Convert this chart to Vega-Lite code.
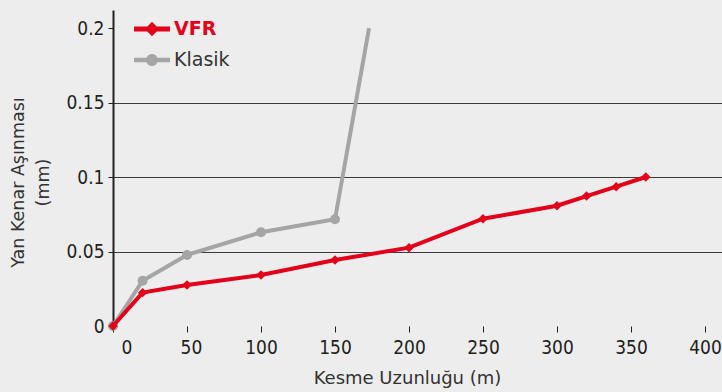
{
  "$schema": "https://vega.github.io/schema/vega-lite/v6.json",
  "width": 609,
  "height": 316,
  "autosize": "none",
  "padding": {"left": 113, "top": 10, "right": 0, "bottom": 66},
  "background": "#ededed",
  "config": {
    "view": {"stroke": null},
    "font": "DejaVu Sans Condensed, sans-serif"
  },
  "data": {
    "values": [
      {"series": "VFR", "length": 0, "wear": 0},
      {"series": "VFR", "length": 20, "wear": 0.0224},
      {"series": "VFR", "length": 50, "wear": 0.0275},
      {"series": "VFR", "length": 100, "wear": 0.0342},
      {"series": "VFR", "length": 150, "wear": 0.0443},
      {"series": "VFR", "length": 200, "wear": 0.0526},
      {"series": "VFR", "length": 250, "wear": 0.072},
      {"series": "VFR", "length": 300, "wear": 0.0807},
      {"series": "VFR", "length": 320, "wear": 0.0872},
      {"series": "VFR", "length": 340, "wear": 0.0935},
      {"series": "VFR", "length": 360, "wear": 0.1},
      {"series": "Klasik", "length": 0, "wear": 0},
      {"series": "Klasik", "length": 20, "wear": 0.0304},
      {"series": "Klasik", "length": 50, "wear": 0.0477},
      {"series": "Klasik", "length": 100, "wear": 0.0629},
      {"series": "Klasik", "length": 150, "wear": 0.0716},
      {"series": "Klasik", "length": 173, "wear": 0.2}
    ]
  },
  "encoding": {
    "x": {
      "field": "length",
      "type": "quantitative",
      "scale": {"domain": [0, 411.5], "nice": false, "zero": false},
      "axis": {
        "values": [0, 50, 100, 150, 200, 250, 300, 350, 400],
        "domain": false,
        "grid": false,
        "ticks": true,
        "tickSize": 6,
        "tickColor": "#231f20",
        "tickWidth": 1,
        "labelFontSize": 19,
        "labelColor": "#231f20",
        "labelPadding": 6,
        "labelOffset": {
          "condition": [
            {"test": "datum.value == 0", "value": 8},
            {"test": "datum.value == 50", "value": 4}
          ],
          "value": 0
        },
        "title": "Kesme Uzunluğu (m)",
        "titleFont": "DejaVu Sans",
        "titleFontSize": 18,
        "titleFontWeight": "normal",
        "titleColor": "#333333",
        "titleX": 294,
        "titleY": 57,
        "titleAlign": "center",
        "titleBaseline": "alphabetic"
      }
    },
    "y": {
      "field": "wear",
      "type": "quantitative",
      "scale": {"domain": [0, 0.2121], "nice": false},
      "axis": {
        "values": [0, 0.05, 0.1, 0.15, 0.2],
        "format": ".2~f",
        "domain": true,
        "domainColor": "#231f20",
        "domainWidth": 2,
        "ticks": true,
        "tickSize": 5,
        "tickColor": "#231f20",
        "tickWidth": 1,
        "grid": true,
        "gridColor": "#3a3a3a",
        "gridWidth": 1.2,
        "gridOpacity": {
          "condition": {"test": "datum.value == 0 || datum.value >= 0.2", "value": 0},
          "value": 1
        },
        "labelFontSize": 19,
        "labelColor": "#231f20",
        "labelPadding": 4,
        "title": ["Yan Kenar Aşınması", "(mm)"],
        "titleFont": "DejaVu Sans",
        "titleFontSize": 17.5,
        "titleFontWeight": "normal",
        "titleColor": "#333333",
        "titleAngle": -90,
        "titleX": -90,
        "titleY": 172,
        "titleAlign": "center",
        "titleBaseline": "alphabetic",
        "titleLineHeight": 25
      }
    },
    "color": {
      "field": "series",
      "type": "nominal",
      "scale": {"domain": ["VFR", "Klasik"], "range": ["#e2001a", "#a5a5a5"]},
      "legend": {
        "title": null,
        "orient": "none",
        "legendX": 29,
        "legendY": 9,
        "padding": 0,
        "symbolSize": 400,
        "labelOffset": 12,
        "rowPadding": 11,
        "labelFont": "DejaVu Sans",
        "labelFontSize": 19,
        "labelLimit": 200,
        "encode": {
          "symbols": {
            "update": {
              "shape": {"signal": "datum.value === 'VFR' ? 'M-1.8,-0.25H1.8V0.25H-1.8Z M0,-0.72L0.72,0L0,0.72L-0.72,0Z' : 'M-1.8,-0.22H1.8V0.22H-1.8Z M-0.6,0A0.6,0.6,0,1,1,0.6,0A0.6,0.6,0,1,1,-0.6,0Z'"},
              "size": {"value": 400},
              "fill": {"signal": "datum.value === 'VFR' ? '#e2001a' : '#a5a5a5'"},
              "stroke": {"value": "transparent"},
              "strokeWidth": {"value": 0},
              "opacity": {"value": 1}
            }
          },
          "labels": {
            "update": {
              "fontWeight": {"signal": "datum.value === 'VFR' ? 'bold' : 'normal'"},
              "fill": {"signal": "datum.value === 'VFR' ? '#e2001a' : '#333333'"}
            }
          }
        }
      }
    }
  },
  "layer": [
    {
      "data": {"values": [{"from": 0, "to": 400}]},
      "mark": {"type": "rule", "color": "#231f20", "strokeWidth": 2.5},
      "encoding": {
        "x": {"field": "from", "type": "quantitative"},
        "x2": {"field": "to"},
        "y": {"datum": 0},
        "color": {"value": "#231f20"}
      }
    },
    {
      "transform": [{"filter": "datum.series === 'Klasik'"}],
      "mark": {"type": "line", "strokeWidth": 4}
    },
    {
      "transform": [{"filter": "datum.series === 'Klasik' && datum.length < 170"}],
      "mark": {"type": "point", "shape": "circle", "filled": true, "size": 100, "opacity": 1}
    },
    {
      "transform": [{"filter": "datum.series === 'VFR'"}],
      "mark": {"type": "line", "strokeWidth": 4}
    },
    {
      "transform": [{"filter": "datum.series === 'VFR'"}],
      "mark": {"type": "point", "shape": "diamond", "filled": true, "size": 90, "opacity": 1}
    }
  ]
}
